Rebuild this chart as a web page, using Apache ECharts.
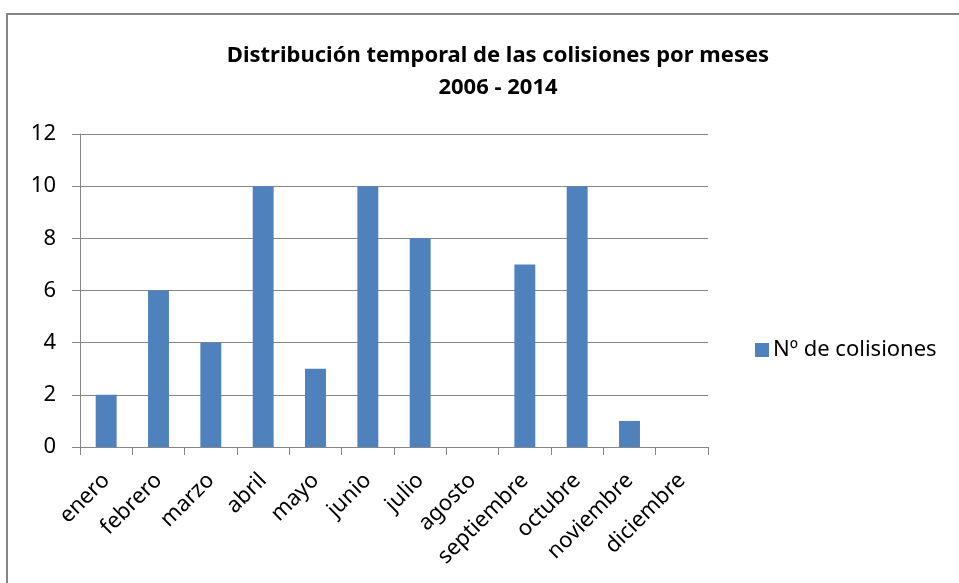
<!DOCTYPE html>
<html>
<head>
<meta charset="utf-8">
<script src="https://cdn.jsdelivr.net/npm/echarts@6/dist/echarts.min.js"></script>
<style>
  html, body { margin: 0; padding: 0; background: #fff; }
  #chart { width: 959px; height: 583px; }
</style>
</head>
<body>
<div id="chart"></div>
<script>
const months = ['enero', 'febrero', 'marzo', 'abril', 'mayo', 'junio', 'julio',
  'agosto', 'septiembre', 'octubre', 'noviembre', 'diciembre']
const colisiones = [2, 6, 4, 10, 3, 10, 8, 0, 7, 10, 1, 0]
const seriesName = 'Nº de colisiones'
const titleText = 'Distribución temporal de las colisiones por meses\n2006 - 2014'

const font = 'Noto Sans'
const axisGray = '#868686'

const chart = echarts.init(document.getElementById('chart'), null, { renderer: 'canvas' })

chart.setOption({
  backgroundColor: '#fff',
  animation: false,
  // marco del gráfico
  graphic: [{
    type: 'rect',
    shape: { x: 7, y: 14, width: 1000, height: 1000 },
    style: { fill: 'none', stroke: axisGray, lineWidth: 2 },
    silent: true
  }],
  title: {
    text: titleText,
    left: 493,
    textAlign: 'center',
    top: 35,
    textStyle: {
      fontFamily: font, fontSize: 22, fontWeight: 'bold', color: '#000', lineHeight: 32
    }
  },
  legend: {
    left: 750,
    top: 334,
    orient: 'vertical',
    itemWidth: 14,
    itemHeight: 14,
    itemGap: 5,
    icon: 'rect',
    textStyle: { fontFamily: font, fontSize: 22, color: '#000', padding: [0, 0, 0, -1] }
  },
  grid: { left: 80, top: 134, width: 628, height: 313 },
  xAxis: {
    type: 'category',
    data: months,
    axisLine: { lineStyle: { color: axisGray, width: 1 } },
    axisTick: { show: true, length: 8, lineStyle: { color: axisGray } },
    axisLabel: {
      rotate: 45, margin: 30, interval: 0,
      fontFamily: font, fontSize: 22, color: '#000'
    },
    splitLine: { show: false }
  },
  yAxis: {
    type: 'value',
    min: 0, max: 12, interval: 2,
    axisLine: { show: true, lineStyle: { color: axisGray, width: 1 } },
    axisTick: { show: true, length: 8, lineStyle: { color: axisGray } },
    axisLabel: { margin: 24, fontFamily: font, fontSize: 22, color: '#000' },
    splitLine: { show: true, lineStyle: { color: axisGray, width: 1 } }
  },
  series: [{
    name: seriesName,
    type: 'bar',
    data: colisiones,
    barWidth: '40%',
    itemStyle: { color: '#4F81BD' }
  }]
})
</script>
</body>
</html>
